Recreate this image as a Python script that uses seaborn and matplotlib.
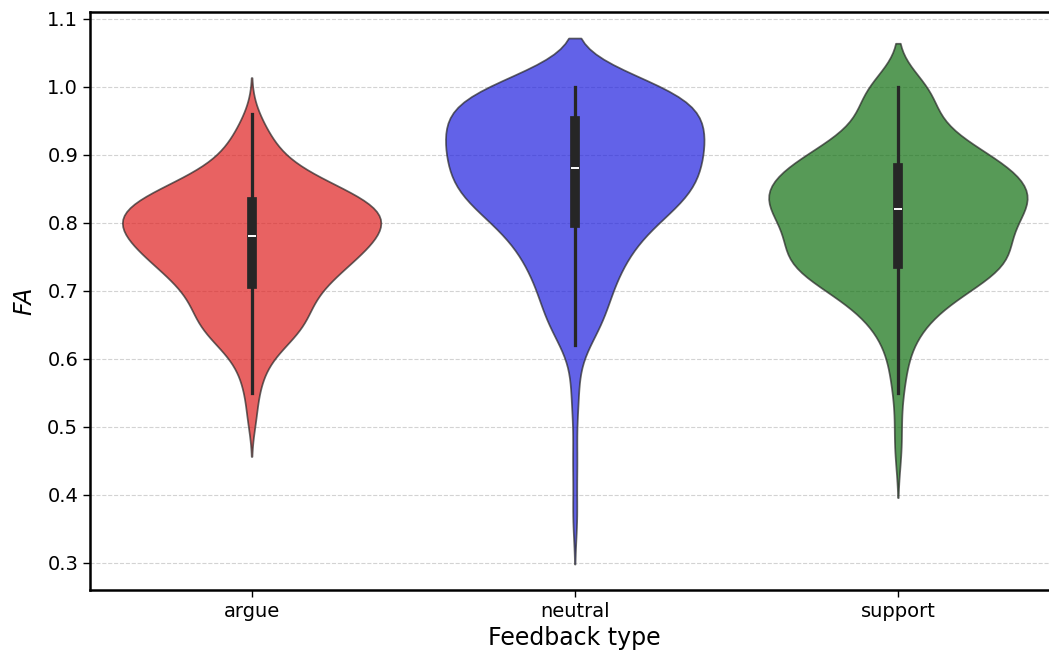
import matplotlib
matplotlib.use('Agg')
import matplotlib.pyplot as plt
import numpy as np
import pandas as pd
import seaborn as sns

# categories and colours
feedback_types = ['argue', 'neutral', 'support']
palette = ['red', 'blue', 'green']

# FA values (binned at 0.01) and how many samples sit at each value
argue_values = [0.51, 0.52, 0.55, 0.56, 0.57, 0.58, 0.59, 0.60, 0.61, 0.62,
                0.63, 0.64, 0.65, 0.66, 0.67, 0.68, 0.69, 0.70, 0.71, 0.72,
                0.73, 0.74, 0.75, 0.76, 0.77, 0.78, 0.79, 0.80, 0.81, 0.82,
                0.83, 0.84, 0.85, 0.86, 0.87, 0.88, 0.89, 0.90, 0.91, 0.92,
                0.93, 0.94, 0.95, 0.96]
argue_counts = [1, 1, 1, 1, 1, 1, 1, 2, 2, 3,
                4, 5, 6, 5, 5, 6, 5, 6, 7, 8,
                8, 9, 10, 11, 11, 12, 12, 13, 13, 13,
                12, 10, 9, 7, 5, 4, 3, 3, 2, 2,
                2, 1, 1, 1]

neutral_values = [0.37, 0.45, 0.53, 0.57, 0.62, 0.63, 0.64, 0.65, 0.66, 0.67,
                  0.68, 0.69, 0.70, 0.71, 0.72, 0.73, 0.74, 0.75, 0.76, 0.77,
                  0.78, 0.79, 0.80, 0.81, 0.82, 0.83, 0.84, 0.85, 0.86, 0.87,
                  0.88, 0.89, 0.90, 0.91, 0.92, 0.93, 0.94, 0.95, 0.96, 0.97,
                  0.98, 0.99, 1.00]
neutral_counts = [1, 1, 1, 1, 1, 1, 2, 2, 2, 2,
                  2, 2, 2, 2, 3, 3, 3, 3, 3, 4,
                  4, 4, 5, 5, 6, 7, 8, 8, 8, 7,
                  7, 8, 8, 8, 8, 8, 8, 8, 8, 7,
                  7, 6, 18]

support_values = [0.46, 0.50, 0.55, 0.57, 0.59, 0.61, 0.62, 0.63, 0.64, 0.65,
                  0.66, 0.67, 0.68, 0.69, 0.70, 0.71, 0.72, 0.73, 0.74, 0.75,
                  0.76, 0.77, 0.78, 0.79, 0.80, 0.81, 0.82, 0.83, 0.84, 0.85,
                  0.86, 0.87, 0.88, 0.89, 0.90, 0.91, 0.92, 0.93, 0.94, 0.95,
                  0.96, 0.97, 0.98, 0.99, 1.00]
support_counts = [1, 1, 1, 1, 1, 1, 1, 1, 1, 2,
                  2, 2, 3, 4, 4, 5, 6, 8, 8, 8,
                  7, 7, 7, 6, 6, 9, 9, 9, 9, 9,
                  8, 8, 8, 7, 6, 5, 4, 3, 3, 2,
                  2, 2, 2, 2, 7]


frames = []
for name, vals, cnts in zip(feedback_types,
                            [argue_values, neutral_values, support_values],
                            [argue_counts, neutral_counts, support_counts]):
    frames.append(pd.DataFrame({'Feedback type': name,
                                'FA': np.repeat(vals, cnts)}))
df = pd.concat(frames, ignore_index=True)

fig = plt.figure(figsize=(10.49, 6.6), dpi=100)
# right spine falls just outside the canvas, like the reference crop
ax = fig.add_axes([0.0858, 0.106, 0.9242, 0.8758])
ax.set_axisbelow(True)
ax.grid(True, linestyle='--', color='#c8c8c8', linewidth=0.8, alpha=0.8)

sns.violinplot(data=df, x='Feedback type', y='FA', hue='Feedback type',
               order=feedback_types, hue_order=feedback_types, palette=palette,
               density_norm='width', bw_adjust=0.95, alpha=0.7,
               inner_kws=dict(box_width=7), legend=False, ax=ax)

ax.set_xlim(-0.5, 2.5)
ax.set_ylim(0.26, 1.11)
ax.set_yticks(np.arange(0.3, 1.11, 0.1))
ax.set_yticklabels(['%.1f' % t for t in np.arange(0.3, 1.11, 0.1)])
ax.tick_params(labelsize=14, length=5, width=1)
ax.set_xlabel('Feedback type', fontsize=17)
ax.set_ylabel('FA', fontsize=17, fontstyle='italic', labelpad=8)
for sp in ax.spines.values():
    sp.set_linewidth(1.8)
    sp.set_color('black')

fig.savefig('out.png', dpi=100)
